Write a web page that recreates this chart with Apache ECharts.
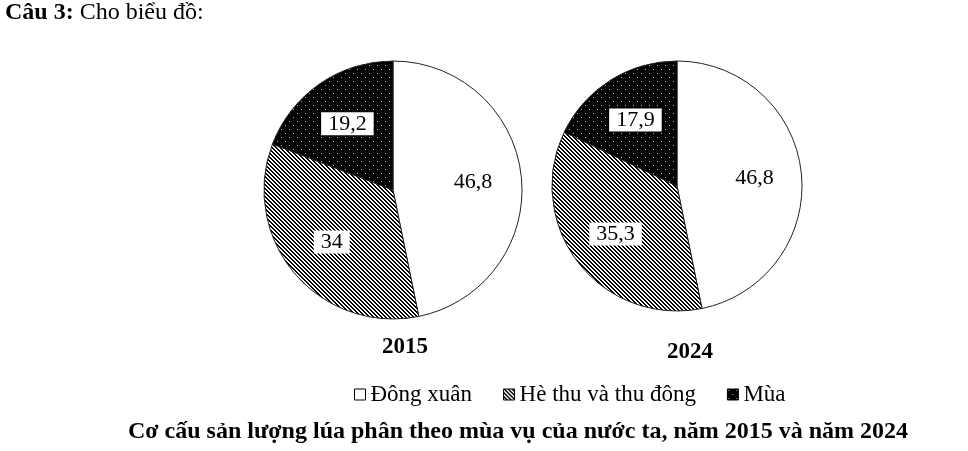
<!DOCTYPE html>
<html>
<head>
<meta charset="utf-8">
<script src="https://cdn.jsdelivr.net/npm/echarts@6/dist/echarts.min.js"></script>
<style>
html,body{margin:0;padding:0;background:#fff;}
#chart{width:968px;height:451px;}
</style>
</head>
<body>
<div id="chart"></div>
<script>
const categories = ['Đông xuân', 'Hè thu và thu đông', 'Mùa'];
const years = ['2015', '2024'];
const values2015 = [46.8, 34, 19.2];
const values2024 = [46.8, 35.3, 17.9];
const headerBold = 'Câu 3:';
const headerText = ' Cho biểu đồ:';
const chartTitle = 'Cơ cấu sản lượng lúa phân theo mùa vụ của nước ta, năm 2015 và năm 2024';

const FONT = '"Liberation Serif", "Times New Roman", serif';

function hatchPattern() {
  const c = document.createElement('canvas');
  c.width = 4; c.height = 4;
  const ctx = c.getContext('2d');
  ctx.fillStyle = '#fff'; ctx.fillRect(0, 0, 4, 4);
  ctx.fillStyle = '#000';
  for (let i = 0; i < 4; i++) {
    ctx.fillRect(i, i, 1, 1);
    ctx.fillRect((i + 1) % 4, i, 1, 1);
  }
  return { image: c, repeat: 'repeat' };
}
function dotPattern() {
  const c = document.createElement('canvas');
  c.width = 8; c.height = 8;
  const ctx = c.getContext('2d');
  ctx.fillStyle = '#000'; ctx.fillRect(0, 0, 8, 8);
  ctx.fillStyle = '#bbb';
  ctx.fillRect(1, 1, 1, 1);
  ctx.fillRect(5, 5, 1, 1);
  return { image: c, repeat: 'repeat' };
}
const fills = ['#ffffff', hatchPattern(), dotPattern()];

function fmt(v) { return String(v).replace('.', ','); }

function pieData(vals) {
  return categories.map((name, i) => ({
    name, value: vals[i],
    itemStyle: { color: fills[i], borderColor: '#222', borderWidth: 1 }
  }));
}
function labelData(vals) {
  return categories.map((name, i) => ({ name, value: vals[i] }));
}

const pies = [
  { vals: values2015, center: [393, 190], r: 129 },
  { vals: values2024, center: [677, 186], r: 125 }
];

const series = [];
pies.forEach(p => {
  series.push({
    type: 'pie', center: p.center, radius: [0, p.r], startAngle: 90, clockwise: true,
    data: pieData(p.vals), label: { show: false }, labelLine: { show: false },
    silent: true, animation: false
  });
});
pies.forEach(p => {
  series.push({
    type: 'pie', center: p.center, radius: [0, p.r * 1.2], startAngle: 90, clockwise: true,
    data: labelData(p.vals), silent: true, animation: false,
    itemStyle: { color: 'rgba(0,0,0,0)', borderWidth: 0 },
    labelLine: { show: false },
    label: {
      show: true, position: 'inside',
      formatter: prm => fmt(prm.value),
      fontFamily: FONT, fontSize: 22, color: '#000',
      backgroundColor: '#fff', padding: [1, 7, 0, 7]
    }
  });
});

const chart = echarts.init(document.getElementById('chart'), null, { renderer: 'canvas' });
chart.setOption({
  backgroundColor: '#fff',
  animation: false,
  legend: {
    left: 349, top: 378,
    itemWidth: 11, itemHeight: 11, itemGap: 31, icon: 'rect',
    textStyle: { fontFamily: FONT, fontSize: 23, color: '#000' },
    data: categories.map((name, i) => ({
      name, itemStyle: { color: fills[i], borderColor: '#000', borderWidth: 1 }
    }))
  },
  graphic: [
    { type: 'text', left: 5, top: 1, style: {
      text: '{b|' + headerBold + '}{n|' + headerText + '}',
      rich: {
        b: { fontFamily: FONT, fontSize: 24, fontWeight: 'bold', fill: '#000' },
        n: { fontFamily: FONT, fontSize: 24, fill: '#000' }
      }
    } },
    { type: 'text', x: 405, y: 347, style: {
      text: years[0], fontFamily: FONT, fontSize: 23, fontWeight: 'bold', fill: '#000',
      align: 'center', verticalAlign: 'middle' } },
    { type: 'text', x: 690, y: 352, style: {
      text: years[1], fontFamily: FONT, fontSize: 23, fontWeight: 'bold', fill: '#000',
      align: 'center', verticalAlign: 'middle' } },
    { type: 'text', x: 518, y: 432, style: {
      text: chartTitle, fontFamily: FONT, fontSize: 24, fontWeight: 'bold', fill: '#000',
      align: 'center', verticalAlign: 'middle' } }
  ],
  series
});
</script>
</body>
</html>
